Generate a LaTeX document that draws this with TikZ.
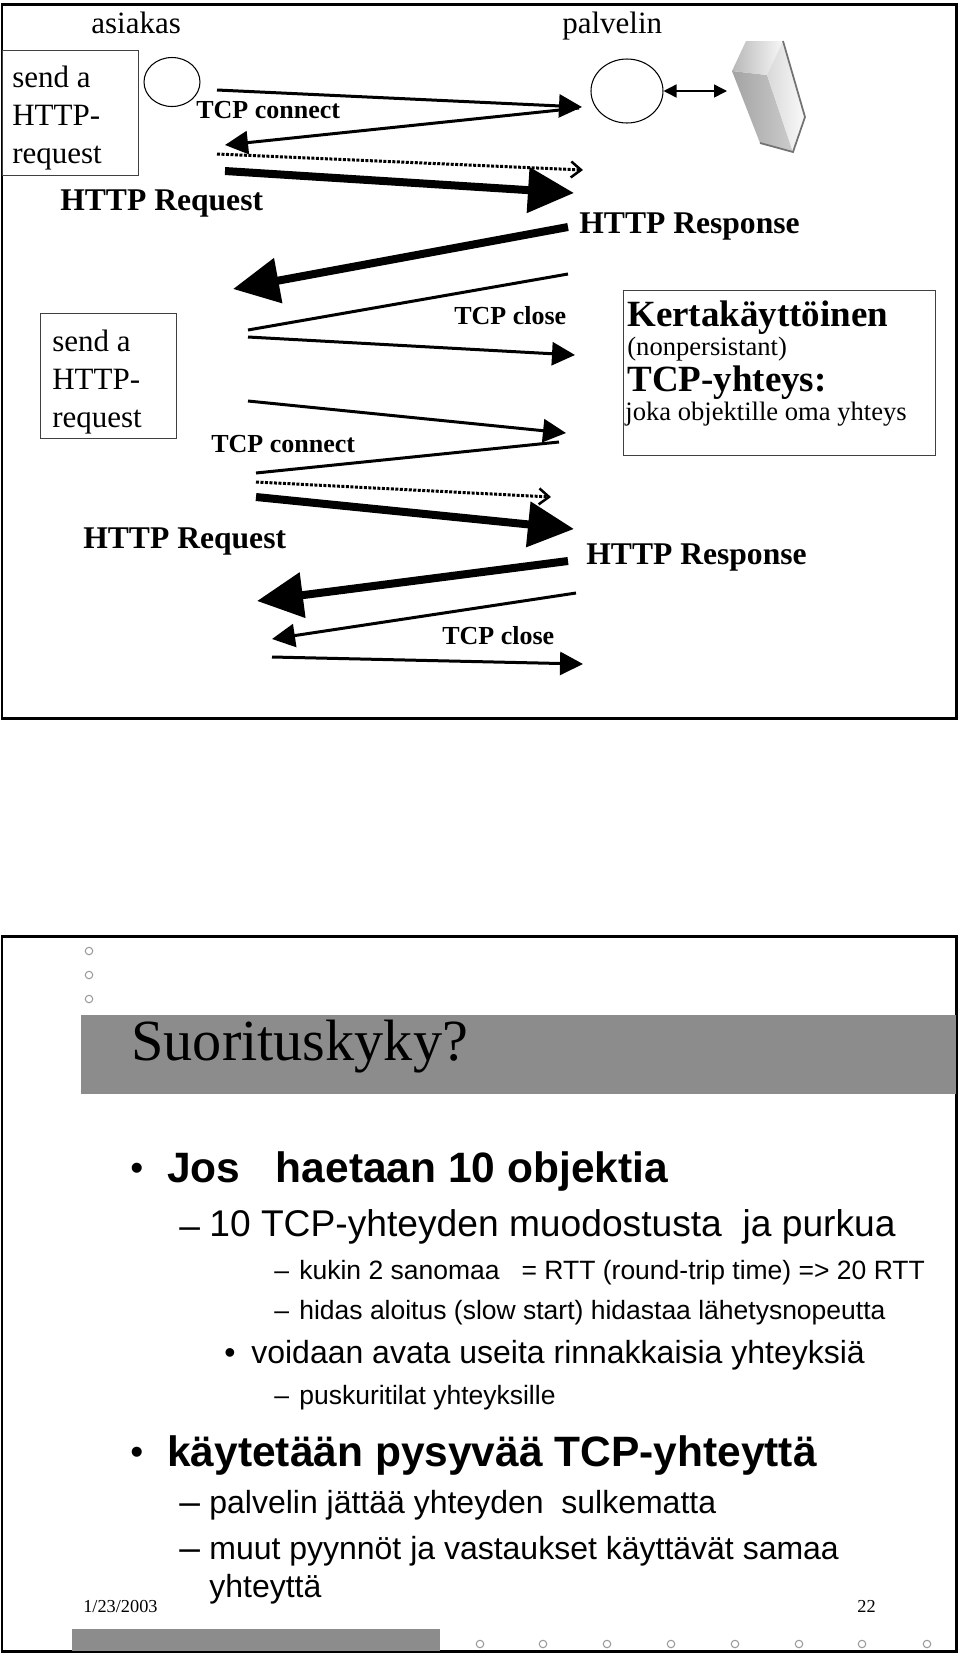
\documentclass[tikz,border=0pt]{standalone}
\usepackage{fontspec}
\setmainfont{Liberation Serif}
\newfontfamily\arialfont{Liberation Sans}
\usetikzlibrary{arrows.meta,shapes.geometric}
% one pixel of the page is 0.02cm, which is 0.569pt
\newcommand{\fpx}[1]{\fontsize{\fpeval{#1*0.569}pt}{\fpeval{#1*0.569*1.2}pt}\selectfont}
\tikzset{
  every node/.style={inner sep=0pt,anchor=base west},
  slideframe/.style={draw=black,line width=0.06cm},
  greybar/.style={fill=barcol},
  dotmark/.style={draw=dotcol,line width=0.6pt,fill=white,circle,minimum size=0.15cm,anchor=center},
  hostmark/.style={draw=black,line width=0.6pt,ellipse,anchor=center},
  reqbox/.style={draw=boxcol,line width=0.6pt,anchor=north west,minimum width=2.72cm,minimum height=2.5cm},
  reqtext/.style={align=left,font=\fpx{31}},
  notebox/.style={draw=boxcol,line width=0.6pt,anchor=north west,minimum width=6.24cm,minimum height=3.3cm},
  toplabel/.style={font=\fpx{31}},
  msglabel/.style={font=\bfseries\fpx{26}},
  httplabel/.style={font=\bfseries\fpx{31.6}},
  notehead/.style={font=\bfseries\fpx{37}},
  notetext/.style={font=\fpx{26.6}},
  headlabel/.style={font=\arialfont\bfseries\fpx{42.5}},
  subhead/.style={font=\arialfont\fpx{37.2}},
  subhtwo/.style={font=\arialfont\fpx{32}},
  subsub/.style={font=\arialfont\fpx{26.5}},
  midhead/.style={font=\arialfont\fpx{32}},
  bulletmark/.style={font=\arialfont\fpx{37}},
  footlabel/.style={font=\fpx{18.3}},
  thinline/.style={line width=0.06cm},
  thinarrow/.style={thinline,-{Triangle[length=0.46cm,width=0.46cm]}},
  fatarrow/.style={line width=0.16cm,-{Triangle[length=0.92cm,width=0.88cm]}},
  dotarrow/.style={line width=0.06cm,dash pattern=on 0.06cm off 0.03cm,-{Straight Barb[length=0.2cm,width=0.32cm,line width=0.05cm]}},
  linkarrow/.style={line width=0.03cm,{Triangle[length=0.26cm,width=0.26cm]}-{Triangle[length=0.26cm,width=0.26cm]}},
}
\definecolor{barcol}{HTML}{8C8C8C}
\definecolor{dotcol}{HTML}{9A9A9A}
\definecolor{boxcol}{HTML}{404040}
\begin{document}
\begin{tikzpicture}[x=0.02cm,y=-0.02cm]
    \useasboundingbox (0,0) rectangle (960,1654);
    \draw [slideframe] (2,4) rectangle (956,718);
    \draw [slideframe] (2,936) rectangle (956,1651);
    % upper slide, client and server
    \node (asiakas) [toplabel] at (91,33) {asiakas};
    \node (palvelin) [toplabel] at (562,33) {palvelin};
    \node (reqa) [reqbox] at (2,50) {};
    \node (reqatext) [reqtext] at (12,163) {send a\\[0.4pt]HTTP-\\[0.4pt]request};
    \node (clienthost) [hostmark,minimum width=1.12cm,minimum height=0.98cm] at (172,82) {};
    \node (serverhost) [hostmark,minimum width=1.44cm,minimum height=1.28cm] at (627,91) {};
    \coordinate (discend) at (727,91);
    \coordinate (disctop) at (746,41);
    \coordinate (disctopr) at (783,41);
    \coordinate (discright) at (805,117);
    \coordinate (discbot) at (793,152);
    \coordinate (discbotl) at (760,143);
    \coordinate (discleft) at (732,71);
    \coordinate (discmid) at (767,75);
    \shade [left color=black!36,right color=black!20] (discleft) -- (discmid) -- (discbot) -- (discbotl) -- cycle;
    \shade [left color=black!28,right color=black!3] (disctop) -- (disctopr) -- (discmid) -- (discleft) -- cycle;
    \shade [left color=black!15,right color=black!2] (disctopr) -- (discright) -- (discbot) -- (discmid) -- cycle;
    \draw [black!55,line width=0.035cm] (disctopr) -- (discright) -- (discbot) -- (discbotl);
    \draw [linkarrow] (serverhost.east) -- (discend);
    % first request
    \coordinate (aa) at (217,90);
    \coordinate (ab) at (582,107);
    \coordinate (ac) at (579,108);
    \coordinate (ad) at (225,145);
    \coordinate (ae) at (217,154);
    \coordinate (af) at (583,170);
    \coordinate (ag) at (225,171);
    \coordinate (ah) at (574,193);
    \coordinate (ai) at (568,227);
    \coordinate (aj) at (233,289);
    \coordinate (ak) at (568,274);
    \coordinate (al) at (248,330);
    \coordinate (am) at (248,337);
    \coordinate (an) at (575,355);
    \draw [thinarrow] (aa) -- (ab);
    \draw [thinarrow] (ac) -- (ad);
    \draw [dotarrow] (ae) -- (af);
    \draw [fatarrow] (ag) -- (ah);
    \draw [fatarrow] (ai) -- (aj);
    \draw [thinline] (ak) -- (al);
    \draw [thinarrow] (am) -- (an);
    \node (connecta) [msglabel] at (196,118) {TCP connect};
    \node (requesta) [httplabel] at (60,210) {HTTP Request};
    \node (responsea) [httplabel] at (579,233) {HTTP Response};
    \node (closea) [msglabel] at (454,324) {TCP close};
    % second request
    \node (reqb) [reqbox] at (40,313) {};
    \node (reqbtext) [reqtext] at (52,427) {send a\\[0.4pt]HTTP-\\[0.4pt]request};
    \coordinate (ba) at (248,401);
    \coordinate (bb) at (566,433);
    \coordinate (bc) at (559,442);
    \coordinate (bd) at (256,473);
    \coordinate (be) at (256,482);
    \coordinate (bf) at (551,497);
    \coordinate (bg) at (256,497);
    \coordinate (bh) at (574,529);
    \coordinate (bi) at (568,561);
    \coordinate (bj) at (257,601);
    \coordinate (bk) at (576,593);
    \coordinate (bl) at (272,639);
    \coordinate (bm) at (272,657);
    \coordinate (bn) at (583,664);
    \draw [thinarrow] (ba) -- (bb);
    \draw [thinline] (bc) -- (bd);
    \draw [dotarrow] (be) -- (bf);
    \draw [fatarrow] (bg) -- (bh);
    \draw [fatarrow] (bi) -- (bj);
    \draw [thinarrow] (bk) -- (bl);
    \draw [thinarrow] (bm) -- (bn);
    \node (connectb) [msglabel] at (211,452) {TCP connect};
    \node (requestb) [httplabel] at (83,548) {HTTP Request};
    \node (responseb) [httplabel] at (586,564) {HTTP Response};
    \node (closeb) [msglabel] at (442,644) {TCP close};
    % note box
    \node (notebox) [notebox] at (623,290) {};
    \node (notea) [notehead] at (627,326) {Kertakäyttöinen};
    \node (noteb) [notetext] at (627,355) {(nonpersistant)};
    \node (notec) [notehead] at (627,391) {TCP-yhteys:};
    \node (noted) [notetext] at (625,420) {joka objektille oma yhteys};
    % lower slide
    \node (dota) [dotmark] at (89,951) {};
    \node (dotb) [dotmark] at (89,975) {};
    \node (dotc) [dotmark] at (89,999) {};
    \fill [greybar] (81,1015) rectangle (956,1094);
    \node (title) [font=\fpx{58.3}] at (131,1060) {Suorituskyky?};
    \node (bula) [bulletmark] at (130,1180) {•};
    \node (linea) [headlabel] at (167,1182) {Jos\ \ \ haetaan 10 objektia};
    \node (dasha) [subhead] at (179,1238) {–};
    \node (lineb) [subhead] at (209,1236) {10 TCP-yhteyden muodostusta\ \ ja purkua};
    \node (dashb) [subsub] at (274,1279) {–};
    \node (linec) [subsub] at (299,1279) {kukin 2 sanomaa\ \ \ = RTT (round-trip time) => 20 RTT};
    \node (dashc) [subsub] at (274,1319) {–};
    \node (lined) [subsub] at (299,1319) {hidas aloitus (slow start) hidastaa lähetysnopeutta};
    \node (bulb) [midhead] at (224,1363) {•};
    \node (linee) [midhead] at (251,1363) {voidaan avata useita rinnakkaisia yhteyksiä};
    \node (dashd) [subsub] at (274,1404) {–};
    \node (linef) [subsub] at (299,1404) {puskuritilat yhteyksille};
    \node (bulc) [bulletmark] at (130,1464) {•};
    \node (lineg) [headlabel] at (167,1466) {käytetään pysyvää TCP-yhteyttä};
    \node (dashe) [subhead] at (179,1514) {–};
    \node (lineh) [subhtwo] at (209,1513) {palvelin jättää yhteyden\ \ sulkematta};
    \node (dashf) [subhead] at (179,1560) {–};
    \node (linei) [subhtwo] at (209,1559) {muut pyynnöt ja vastaukset käyttävät samaa};
    \node (linej) [subhtwo] at (209,1597) {yhteyttä};
    \node (datelabel) [footlabel] at (83,1612) {1/23/2003};
    \node (pagelabel) [footlabel] at (857,1612) {22};
    \fill [greybar] (72,1629) rectangle (440,1651);
    \node (dotd) [dotmark] at (480,1644) {};
    \node (dote) [dotmark] at (543,1644) {};
    \node (dotf) [dotmark] at (607,1644) {};
    \node (dotg) [dotmark] at (671,1644) {};
    \node (doth) [dotmark] at (735,1644) {};
    \node (doti) [dotmark] at (799,1644) {};
    \node (dotj) [dotmark] at (862,1644) {};
    \node (dotk) [dotmark] at (927,1644) {};
\end{tikzpicture}
\end{document}
